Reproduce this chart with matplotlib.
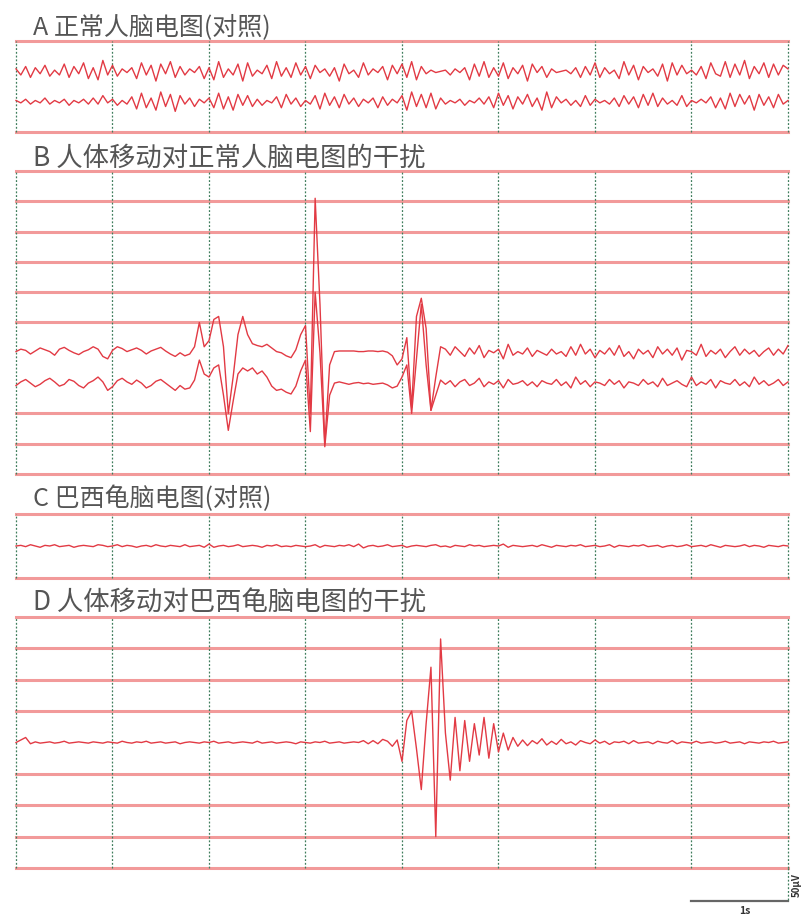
import numpy as np
import matplotlib.pyplot as plt

plt.rcParams['font.family'] = ['Noto Sans CJK SC', 'DejaVu Sans']

# sample interval (s), 8 s per strip
dt = 0.05

# panel titles
titles = ['A 正常人脑电图(对照)', 'B 人体移动对正常人脑电图的干扰',
          'C 巴西龟脑电图(对照)', 'D 人体移动对巴西龟脑电图的干扰']

# A: normal human EEG, two channels (uV)
a_ch1 = [4, -6, 8, -10, 6, -4, 10, -8, 2, -6, 12, -10, 8, -4, 14, -12, 6, -14, 18, -6,
         10, -8, 4, -2, 6, -12, 14, -6, 10, -16, 12, -4, 16, -10, 8, -6, 4, -2, 8, -12,
         6, -14, 16, -10, 4, -6, 12, -16, 14, -8, 2, -4, 10, -12, 16, -8, 6, -10, 14, -6,
         8, -12, 10, -2, 4, -8, 6, -16, 12, -4, 2, -10, 14, -6, 4, -2, 8, -14, 10, -4,
         12, -10, 16, -14, 8, -4, 2, -2, 0, 2, -6, 4, -2, 6, -14, 12, -8, 16, -10, 6,
         -8, 14, -12, 6, -4, 10, -16, 12, -2, 8, -10, 4, -2, 0, 2, -4, 6, -10, 8, -6,
         14, -10, 6, -4, 2, -12, 16, -6, 10, -14, 8, -2, 4, -8, 12, -16, 14, -6, 10, -4,
         2, -6, 8, -12, 14, -4, -8, 16, -10, 12, -6, 18, -12, 8, -4, 14, -10, 12, -6, 10,
         4]
a_ch2 = [2, -2, 4, -4, 2, -2, 6, -4, 2, -2, 4, -6, 2, -2, 4, -4, 6, -4, 10, -2,
         4, -6, 2, -4, 8, -12, 14, -10, 6, -14, 16, -8, 12, -16, 10, -4, 6, -8, 4, -2,
         6, -10, 14, -12, 8, -14, 12, -6, 10, -8, 4, -6, 2, -2, 8, -10, 12, -4, 6, -8,
         2, -4, 10, -12, 14, -6, 8, -10, 12, -4, 6, -8, 4, -2, 6, -10, 8, -6, 4, -2,
         10, -14, 16, -8, 12, -10, 14, -12, 6, -4, 2, -2, 4, -6, 2, -2, 6, -4, 8, -10,
         14, -6, 10, -12, 8, -4, 12, -8, 6, -14, 16, -10, 8, -2, 4, -6, 2, -8, 10, -6,
         4, -2, 2, -4, 6, -8, 10, -4, 8, -10, 12, -6, 14, -8, 6, -4, 2, -6, 10, -8,
         2, -2, 4, -2, 8, -10, 6, -12, 14, -8, 12, -4, 10, -14, 12, -6, 8, -10, 12, -4,
         2]

# B: human EEG with body-movement artefacts (uV)
b_ch1 = [2, 6, 4, -2, 3, 8, 5, 2, -4, 6, 9, 4, 0, -3, 2, 5, 10, 6, -6, -10,
         4, 10, 7, 2, 5, 8, 4, -2, 3, 6, 9, 3, -2, -6, 0, -5,
         -2, 10, 50, 10, 20, 55, 60, 10, -100, -40, 30, 60, 30,
         15, 12, 10, 14, 8, 2, 0, -5, -8, 5,
         30, 45, -100, 255, 80, -150, -20, 2,
         3, 3, 3, 3, 2, 2, 3, 3, 2, 3, 1,
         -5, -20, -10, 25, -90, 60, 90, 40, -95, -40, 10,
         6, -4, 10, 2, -6, 8, -2, 12, -8, 4, 0, 6, -10, 14, -4, 2, -2, 8, -6, 4,
         0, -4, 6, -2, 2, -6, 10, -4, 14, -2, 6, -8, 4, -2, 8, -4, 12, -6, 2, -10,
         6, -2, 4, -8, 10, -2, 6, -4, 8, -12, 4, 2, -4, 14, -6, 4, -2, 6, -8, 2,
         10, -4, 6, -2, 4, -6, 2, 8, -4, 6, -2, 12]
b_ch2 = [-4, 2, 6, 0, -6, -2, 4, 8, 2, -5, -2, 6, 3, -4, -8, 0, 4, 10, 2, -12,
         -6, 4, 8, 2, -2, 5, 0, -8, -4, 3, 6, 0, -6, -12, -4, -10,
         -8, 5, 38, 15, 10, 25, 30, -20, -78, -30, 15, 25, 20,
         25, 15, 20, 10, -5, -12, -10, -15, -18, -5,
         20, 38, -80, 150, 50, -105, -20, 0,
         2, 0, -2, 0, 1, -1, 0, -2, -1, 0, -3,
         -8, -5, 10, 30, -50, 40, 130, 30, -45, -20, 5,
         -2, 4, -6, 2, 6, -4, 0, 8, -6, 2, -2, 4, -8, 6, -2, 0, 4, -4, 2, -6,
         4, 0, -2, 6, -4, 2, -8, 10, -2, 4, -6, 2, 0, -4, 6, -2, 4, -8, 2, 0,
         -4, 6, -2, 2, -6, 8, -4, 0, 4, -2, -6, 10, -4, 2, -2, 6, -8, 4, 0, -2,
         6, -4, 2, -6, 10, -2, 4, -4, 0, 6, -4, 2]

# C: turtle EEG (uV)
c_ch1 = [0, 1, -1, 2, 0, -2, 1, 0, 2, -1, 0, 1, -2, 0, 1, 0, -1, 2, 1, -1,
         0, 2, -1, 1, 0, -2, 0, 1, -1, 2, 0, -1, 1, 0, -1, 2, -1, 0, 1, -2,
         3, -2, 0, 1, -1, 0, 2, -1, 0, 1, 0, -2, 1, 0, 2, -1, 0, -1, 1, 0,
         -1, 0, 2, -2, 1, 0, -1, 1, 0, 2, -1, 3, -3, 0, 1, -1, 0, 2, -1, 0,
         1, -2, 0, 1, 0, -1, 1, 2, -1, 0, -2, 1, 0, -1, 2, 0, 1, -1, 0, 1,
         0, 3, -2, 1, 0, -1, 0, 1, -1, 2, 0, -2, 1, 0, -1, 1, 0, 2, -1, 0,
         1, -1, 0, 2, -2, 1, 0, -1, 1, 0, 2, -1, 0, 1, -2, 0, 1, -1, 0, 2,
         -1, 0, 1, -1, 2, 0, -2, 1, 0, -1, 0, 2, -1, 1, 0, -2, 1, 0, -1, 1,
         0]

# D: turtle EEG with body-movement artefact (uV)
d_ch1 = [0, 4, 8, -2, 1, -1, 0, 1, -1, 0, 2, -1, 0, 1, 0, -1, 1, 0, -1, 1,
         0, -1, 2, 0, -1, 1, 0, 2, -1, 0, 1, -1, 0, 1, -2, 0, 1, 0, -1, 1,
         0, 2, -1, 0, 1, -1, 0, 1, 0, -1, 2, -1, 0, 1, -1, 0, 1, 0, -2, 1,
         0, -1, 1, 0, 2, -1, 0, 1, -1, 0, 1, 0, 3, -2,
         3, -2, 5, 2, -6, 4, -30, 35, 50, -10, -75, 30, 120, -150, 165, 15,
         -60, 40, -45, 35, -30, 30, -20, 40, -25, 30, -15, 15, -12, 8, -6,
         4, -5, 3, -2, 6, -4, 2, -3, 5, -2, 1, -4, 3, 0, -2, 4, -1, 2, -3, 1,
         0, 2, -2, 3, -1, 0, 1, -2, 2, 0, -1, 3, -2, 1, 0, -1, 2, -1, 0, 1,
         -1, 0, 2, -1, 0, 1, -2, 1, 0, -1, 1, 0, 2, -1, 0, 1]

panels = [[a_ch1, a_ch2], [b_ch1, b_ch2], [c_ch1], [d_ch1]]

# layout (pixels of the 803x919 image)
W, H = 803, 919
left_px, right_px = 16, 788
tops = [41, 171, 514, 617]
bottoms = [132, 474, 578, 868]
n_slots = [3, 10, 2, 8]
chan_levels = [[1, 2], [6, 7], [1], [4]]
title_y = [27, 158, 499, 602]
title_size = [18, 19, 18, 19]
slot = 50  # uV per grid slot

grid_red = '#f29a9a'
trace_red = '#e23a44'
vgreen = '#3f7d5c'

fig = plt.figure(figsize=(W / 100, H / 100), dpi=100)

axes = []
for i in range(4):
    ax = fig.add_axes([left_px / W, 1 - bottoms[i] / H,
                       (right_px - left_px) / W, (bottoms[i] - tops[i]) / H])
    n = n_slots[i]
    ax.set_xlim(0, 8)
    ax.set_ylim(0, n * slot)
    ax.axis('off')

    # horizontal red rules, skipped where a channel sits
    for lev in range(n + 1):
        if lev in chan_levels[i]:
            continue
        ax.axhline((n - lev) * slot, color=grid_red, lw=2.2, clip_on=False, zorder=1)

    # one-second dotted verticals
    for s in range(9):
        ax.axvline(s, color=vgreen, lw=0.9, ls=(0, (1.5, 1.5)), clip_on=False, zorder=2)

    for vals, lev in zip(panels[i], chan_levels[i]):
        v = np.array(vals, dtype=float)
        t = np.arange(len(v)) * dt
        base = (n - lev) * slot
        ax.plot(t, base + v, color=trace_red, lw=1.0, zorder=3, clip_on=False)

    fig.text(33 / W, 1 - title_y[i] / H, titles[i], fontsize=title_size[i],
             color='#555555', va='center', ha='left')
    axes.append(ax)

# scale bar: 1 s / 50 uV
axd = axes[3]
axd.plot([7, 8], [-52, -52], color='#666666', lw=1.6, clip_on=False)
axd.plot([8, 8], [0, -52], color=vgreen, lw=0.9, ls=(0, (1.5, 1.5)), clip_on=False)
axd.text(7.55, -68, '1s', fontsize=7.5, color='#333333', ha='center', va='center',
         fontweight='bold')
fig.text(797 / W, 1 - 885 / H, '50μV', fontsize=7, color='#333333', rotation=90,
         ha='center', va='center', fontweight='bold')

fig.savefig('out.png', dpi=100)
